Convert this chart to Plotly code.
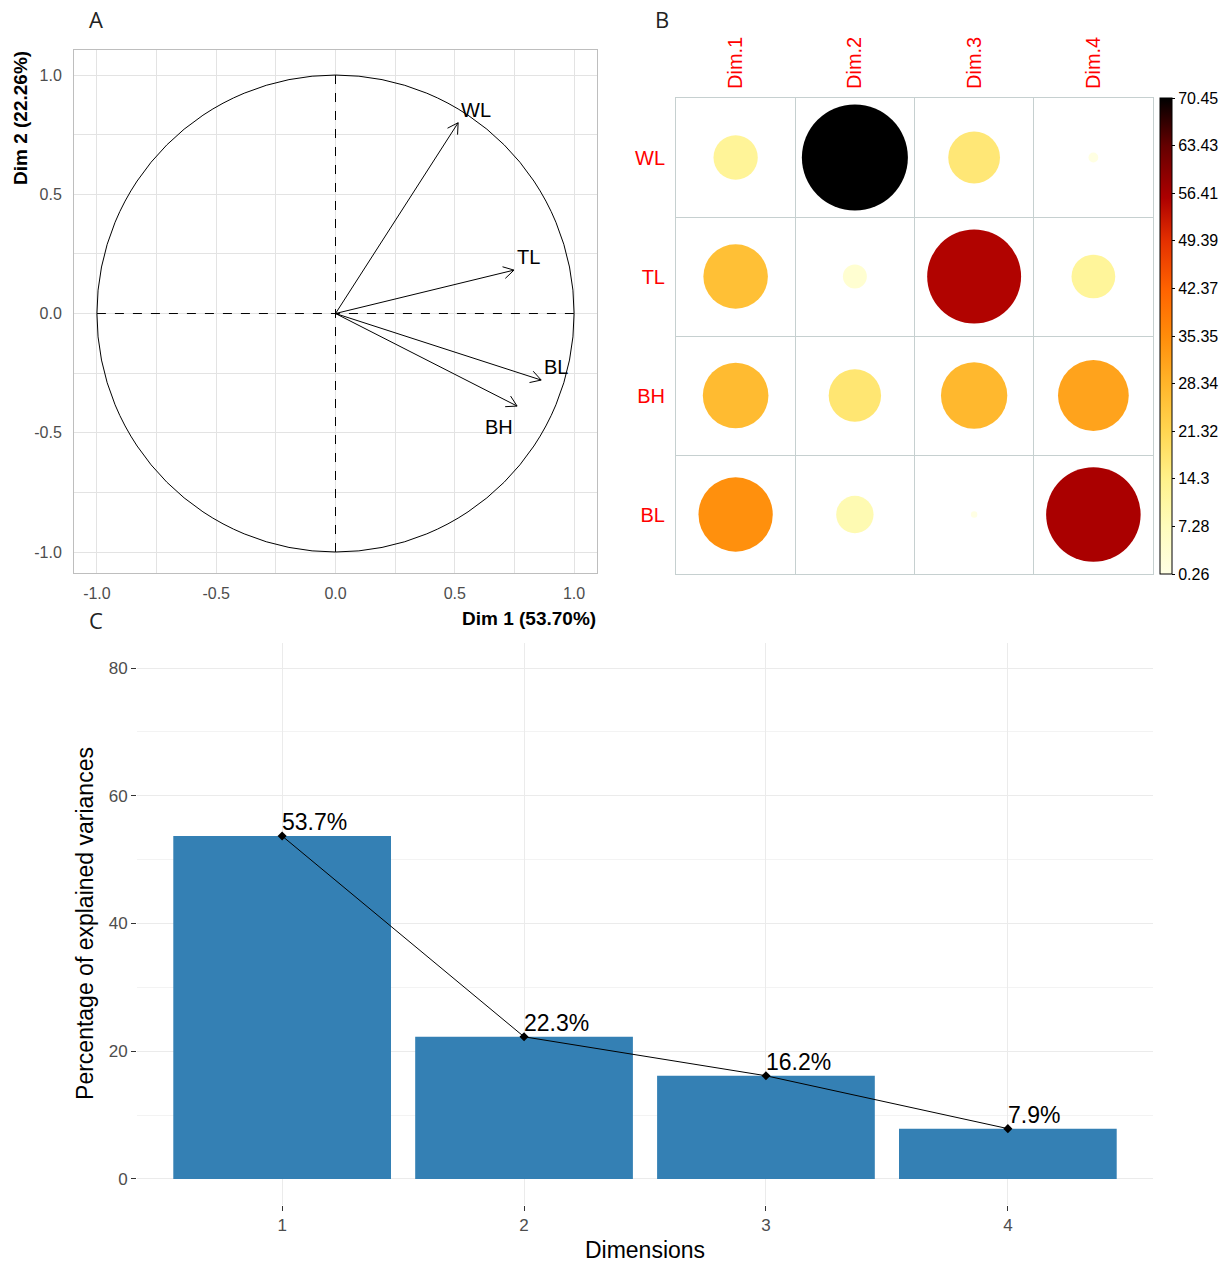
import numpy as np
import plotly.graph_objects as go

W, H = 1220, 1263

# ---------------- Panel A: variable correlation circle ----------------
variables = ["WL", "TL", "BH", "BL"]
dim1_coord = [0.514, 0.748, 0.761, 0.862]
dim2_coord = [0.800, 0.182, -0.388, -0.279]
axis_a_ticks = [-1.0, -0.5, 0.0, 0.5, 1.0]

# ---------------- Panel B: contributions (corrplot) ----------------
contrib_dims = ["Dim.1", "Dim.2", "Dim.3", "Dim.4"]
contrib_vars = ["WL", "TL", "BH", "BL"]
contrib_dim1 = [12.3, 26.1, 27.0, 34.6]
contrib_dim2 = [70.45, 3.6, 17.2, 8.75]
contrib_dim3 = [16.8, 55.3, 27.6, 0.26]
contrib_dim4 = [0.6, 12.0, 31.4, 56.0]
colorbar_ticks = [0.26, 7.28, 14.3, 21.32, 28.34, 35.35, 42.37, 49.39, 56.41, 63.43, 70.45]

# ---------------- Panel C: scree plot ----------------
eig_dims = [1, 2, 3, 4]
eig_pct = [53.70, 22.26, 16.16, 7.88]
eig_labels = ["53.7%", "22.3%", "16.2%", "7.9%"]
eig_ticks = [0, 20, 40, 60, 80]


def px_x(p):
    return p / W


def px_y(p):
    return 1 - p / H


FONT = "Liberation Sans, Arial, sans-serif"
fig = go.Figure()

# ---- Panel A traces ----
head_len = 0.05
head_ang = np.deg2rad(30)
ax_x, ax_y = [], []
for x, y in zip(dim1_coord, dim2_coord):
    th = np.arctan2(y, x)
    ax_x += [0, x, None]
    ax_y += [0, y, None]
    for s in (1, -1):
        a = th + np.pi + s * head_ang
        ax_x += [x, x + head_len * np.cos(a), None]
        ax_y += [y, y + head_len * np.sin(a), None]

fig.add_trace(go.Scatter(x=ax_x, y=ax_y, mode="lines",
                         line=dict(color="black", width=1),
                         xaxis="x", yaxis="y", hoverinfo="skip"))

# ---- Panel B traces ----
contrib_cols = [contrib_dim1, contrib_dim2, contrib_dim3, contrib_dim4]
vmax = max(max(c) for c in contrib_cols)
vmin = min(min(c) for c in contrib_cols)
bx, by, bv = [], [], []
for j, col in enumerate(contrib_cols):
    for i, v in enumerate(col):
        bx.append(j + 1)
        by.append(i + 1)
        bv.append(v)
bv = np.array(bv)
max_diam = 106
sizes = max_diam * np.sqrt(bv / vmax)

colorscale = [
    [0.0, "#FFFFE4"],
    [0.1, "#FEFCBC"],
    [0.2, "#FFF18A"],
    [0.3, "#FFD651"],
    [0.4, "#FFB52A"],
    [0.5, "#FF8C0A"],
    [0.6, "#FF6200"],
    [0.7, "#E43000"],
    [0.79, "#AD0000"],
    [0.9, "#640000"],
    [1.0, "#000000"],
]

fig.add_trace(go.Scatter(
    x=bx, y=by, mode="markers",
    marker=dict(size=sizes, sizemode="diameter", color=bv, colorscale=colorscale,
                cmin=vmin, cmax=vmax, opacity=1, line=dict(width=0),
                colorbar=dict(
                    x=px_x(1160), xanchor="left", xref="paper",
                    y=px_y(574), yanchor="bottom", yref="paper",
                    len=(574 - 98) / H, lenmode="fraction",
                    thickness=12, thicknessmode="pixels",
                    outlinewidth=1, outlinecolor="black",
                    xpad=0, ypad=0,
                    tickvals=colorbar_ticks,
                    ticktext=[f"{v:g}" for v in colorbar_ticks],
                    ticks="outside", ticklen=3, tickcolor="black",
                    tickfont=dict(family=FONT, size=16, color="black"),
                )),
    xaxis="x2", yaxis="y2", hoverinfo="skip"))

# ---- Panel C traces ----
fig.add_trace(go.Bar(x=eig_dims, y=eig_pct, width=0.9,
                     marker=dict(color="#3480B4", line=dict(width=0)),
                     xaxis="x3", yaxis="y3"))
fig.add_trace(go.Scatter(x=eig_dims, y=eig_pct, mode="lines+markers",
                         line=dict(color="black", width=1),
                         marker=dict(color="black", size=7, symbol="diamond"),
                         xaxis="x3", yaxis="y3"))

# ---- Shapes (reference geometry for panel A) ----
shapes = [
    dict(type="circle", xref="x", yref="y", x0=-1, y0=-1, x1=1, y1=1,
         line=dict(color="black", width=1)),
    dict(type="line", xref="x", yref="y", x0=-1, y0=0, x1=1, y1=0,
         line=dict(color="black", width=1, dash="dash")),
    dict(type="line", xref="x", yref="y", x0=0, y0=-1, x1=0, y1=1,
         line=dict(color="black", width=1, dash="dash")),
]

letter_font = dict(family="Open Sans", size=22, color="#222")
annotations = [
    dict(text="A", x=px_x(96), y=px_y(19), xref="paper", yref="paper",
         xanchor="center", yanchor="middle", showarrow=False, font=letter_font),
    dict(text="B", x=px_x(662), y=px_y(19), xref="paper", yref="paper",
         xanchor="center", yanchor="middle", showarrow=False, font=letter_font),
    dict(text="C", x=px_x(96), y=px_y(620), xref="paper", yref="paper",
         xanchor="center", yanchor="middle", showarrow=False, font=letter_font),
    dict(text="<b>Dim 1 (53.70%)</b>", x=px_x(598), y=px_y(618), xref="paper", yref="paper",
         xanchor="right", yanchor="middle", showarrow=False,
         font=dict(family=FONT, size=19, color="black")),
    dict(text="<b>Dim 2 (22.26%)</b>", x=px_x(20), y=px_y(118), xref="paper", yref="paper",
         xanchor="center", yanchor="middle", textangle=-90, showarrow=False,
         font=dict(family=FONT, size=19, color="black")),
]

# variable labels in panel A (BH is pushed below-left of its arrow)
for name, x, y in zip(variables, dim1_coord, dim2_coord):
    below = name == "BH"
    annotations.append(dict(
        text=name, x=x, y=y, xref="x", yref="y", showarrow=False,
        xanchor="right" if below else "left",
        yanchor="top" if below else "bottom",
        xshift=-2 if below else 1, yshift=-8 if below else 0,
        font=dict(family=FONT, size=20, color="black")))

# percentage labels in panel C
for d, v, t in zip(eig_dims, eig_pct, eig_labels):
    annotations.append(dict(
        text=t, x=d, y=v, xref="x3", yref="y3", showarrow=False,
        xanchor="left", yanchor="bottom", xshift=-2, yshift=-1,
        font=dict(family=FONT, size=23, color="black")))

grid_a = "#E3E3E3"
tickfont_a = dict(family=FONT, size=16, color="#4D4D4D")

fig.update_layout(
    width=W, height=H,
    margin=dict(l=0, r=0, t=0, b=0),
    paper_bgcolor="white", plot_bgcolor="white",
    showlegend=False, hovermode=False,
    template="none",
    font=dict(family=FONT),
    shapes=shapes,
    annotations=annotations,
    # Panel A
    xaxis=dict(domain=[px_x(74), px_x(597)], anchor="y", range=[-1.096, 1.096],
               tickmode="array", tickvals=axis_a_ticks,
               ticktext=[f"{v:.1f}" for v in axis_a_ticks],
               showgrid=True, gridcolor=grid_a, gridwidth=1,
               minor=dict(tickmode="array", tickvals=[-0.75, -0.25, 0.25, 0.75],
                          showgrid=True, gridcolor=grid_a, gridwidth=1),
               showline=True, mirror=True, linecolor="#BEBEBE", linewidth=1,
               zeroline=False, ticks="outside", ticklen=6, tickcolor="rgba(0,0,0,0)",
               tickfont=tickfont_a),
    yaxis=dict(domain=[px_y(573), px_y(50)], anchor="x", range=[-1.088, 1.105],
               tickmode="array", tickvals=axis_a_ticks,
               ticktext=[f"{v:.1f}" for v in axis_a_ticks],
               showgrid=True, gridcolor=grid_a, gridwidth=1,
               minor=dict(tickmode="array", tickvals=[-0.75, -0.25, 0.25, 0.75],
                          showgrid=True, gridcolor=grid_a, gridwidth=1),
               showline=True, mirror=True, linecolor="#BEBEBE", linewidth=1,
               zeroline=False, ticks="outside", ticklen=8, tickcolor="rgba(0,0,0,0)",
               tickfont=tickfont_a),
    # Panel B
    xaxis2=dict(domain=[px_x(676), px_x(1153)], anchor="y2", range=[0.5, 4.5],
                side="top", tickmode="array", tickvals=[1, 2, 3, 4], ticktext=contrib_dims,
                tickangle=-90, tickfont=dict(family=FONT, size=20, color="#FF0000"),
                showgrid=False, zeroline=False,
                minor=dict(tickmode="array", tickvals=[1.5, 2.5, 3.5], showgrid=True,
                           gridcolor="#C6D0D0", gridwidth=1),
                showline=True, mirror=True, linecolor="#C6D0D0", linewidth=1,
                ticks="outside", ticklen=4, tickcolor="rgba(0,0,0,0)"),
    yaxis2=dict(domain=[px_y(574), px_y(98)], anchor="x2", range=[4.5, 0.5],
                tickmode="array", tickvals=[1, 2, 3, 4], ticktext=contrib_vars,
                tickfont=dict(family=FONT, size=20, color="#FF0000"),
                showgrid=False, zeroline=False,
                minor=dict(tickmode="array", tickvals=[1.5, 2.5, 3.5], showgrid=True,
                           gridcolor="#C6D0D0", gridwidth=1),
                showline=True, mirror=True, linecolor="#C6D0D0", linewidth=1,
                ticks="outside", ticklen=6, tickcolor="rgba(0,0,0,0)"),
    # Panel C
    xaxis3=dict(domain=[px_x(137), px_x(1153)], anchor="y3", range=[0.4, 4.6],
                tickmode="array", tickvals=eig_dims, ticktext=[str(d) for d in eig_dims],
                showgrid=True, gridcolor="#EBEBEB", gridwidth=1, zeroline=False,
                showline=False, ticks="outside", ticklen=5, tickcolor="#333333",
                tickfont=dict(family=FONT, size=17, color="#4D4D4D"),
                title=dict(text="Dimensions", standoff=14,
                           font=dict(family=FONT, size=23, color="black"))),
    yaxis3=dict(domain=[px_y(1204.5), px_y(642.5)], anchor="x3", range=[-4, 84],
                tickmode="array", tickvals=eig_ticks, ticktext=[str(t) for t in eig_ticks],
                showgrid=True, gridcolor="#EBEBEB", gridwidth=1, zeroline=False,
                minor=dict(tickmode="array", tickvals=[10, 30, 50, 70], showgrid=True,
                           gridcolor="#F3F3F3", gridwidth=1),
                showline=False, ticks="outside", ticklen=5, tickcolor="#333333",
                tickfont=dict(family=FONT, size=17, color="#4D4D4D"),
                title=dict(text="Percentage of explained variances", standoff=8,
                           font=dict(family=FONT, size=23, color="black"))),
)

# remove the default page margin so the 1220x1263 figure fills the window exactly
page_fix = ("document.documentElement.style.margin='0';"
            "document.documentElement.style.overflow='hidden';"
            "document.body.style.margin='0';"
            "document.body.style.overflow='hidden';")
fig.write_html("out.html", post_script=page_fix, config={"displayModeBar": False})
